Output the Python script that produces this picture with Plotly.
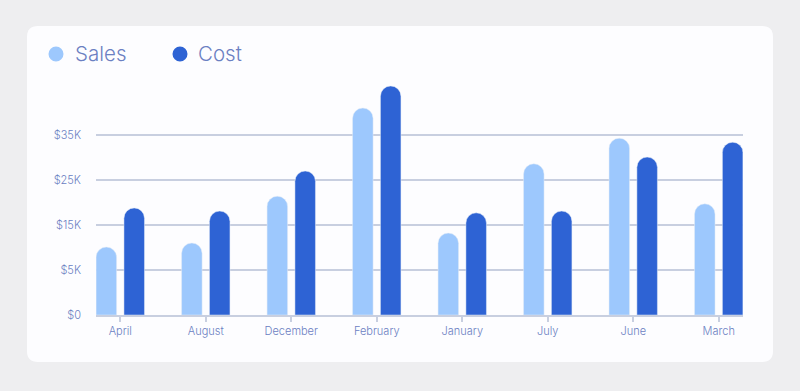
import plotly.graph_objects as go

months = ["April", "August", "December", "February", "January", "July", "June", "March"]
sales = [15.1, 16.0, 26.4, 46.0, 18.2, 33.6, 39.3, 24.7]
cost = [23.8, 23.1, 32.0, 50.9, 22.7, 23.1, 35.1, 38.4]
tick_vals = [0, 10, 20, 30, 40]
tick_text = ["$0", "$5K", "$15K", "$25K", "$35K"]

SALES_C = "#9dc8fd"
COST_C = "#2e63d4"
TEXT_C = "#6b80c2"
GRID_C = "#c8cfe0"
FONT = "Inter"

W, H = 800, 391
L, R, T, B = 96, 57, 81, 76
pw, ph = W - L - R, H - T - B

def px_x(x):
    return (x - L) / pw

def px_y(y):
    return (H - B - y) / ph

fig = go.Figure()
fig.add_trace(go.Bar(x=months, y=sales, name="Sales", marker_color=SALES_C,
                     width=0.24, offset=-0.283, showlegend=False))
fig.add_trace(go.Bar(x=months, y=cost, name="Cost", marker_color=COST_C,
                     width=0.24, offset=0.043, showlegend=False))

# card background
x0, x1 = px_x(27), px_x(773)
y0, y1 = px_y(362), px_y(26)
rx, ry = 11 / pw, 11 / ph
path = (f"M{x0+rx},{y0} L{x1-rx},{y0} Q{x1},{y0} {x1},{y0+ry} "
        f"L{x1},{y1-ry} Q{x1},{y1} {x1-rx},{y1} L{x0+rx},{y1} "
        f"Q{x0},{y1} {x0},{y1-ry} L{x0},{y0+ry} Q{x0},{y0} {x0+rx},{y0} Z")
shapes = [dict(type="path", path=path, xref="paper", yref="paper",
               fillcolor="#fdfdff", line=dict(width=0), layer="below")]

annotations = []
for name, col, cx, tx in [("Sales", SALES_C, 56, 73), ("Cost", COST_C, 180, 196)]:
    shapes.append(dict(type="circle", xref="paper", yref="paper",
                       xsizemode="pixel", ysizemode="pixel",
                       xanchor=px_x(cx), yanchor=px_y(54),
                       x0=-7.5, x1=7.5, y0=-7.5, y1=7.5,
                       fillcolor=col, line=dict(width=0)))
    annotations.append(dict(text=name, xref="paper", yref="paper",
                            x=px_x(tx), y=px_y(54), xanchor="left", yanchor="middle",
                            showarrow=False,
                            font=dict(family=FONT, size=20.5, weight=300, color=TEXT_C)))

fig.update_layout(
    width=W, height=H,
    margin=dict(l=L, r=R, t=T, b=B),
    paper_bgcolor="#eeeef0",
    plot_bgcolor="rgba(0,0,0,0)",
    barmode="group",
    barcornerradius="50%",
    shapes=shapes,
    annotations=annotations,
    font=dict(family=FONT, color=TEXT_C, size=11, weight=300),
    xaxis=dict(range=[-0.284, 7.284], showgrid=False, showline=True,
               linecolor=GRID_C, linewidth=1.5, ticks="outside", ticklen=5,
               tickcolor=GRID_C, tickwidth=2,
               tickfont=dict(family=FONT, size=11, weight=300, color=TEXT_C)),
    yaxis=dict(range=[0, 52], tickvals=tick_vals, ticktext=tick_text,
               showgrid=True, gridcolor=GRID_C, gridwidth=1.5, zeroline=False,
               showline=False, ticklabelstandoff=14,
               tickfont=dict(family=FONT, size=11, weight=300, color=TEXT_C)),
)

fig.write_html("out.html")
